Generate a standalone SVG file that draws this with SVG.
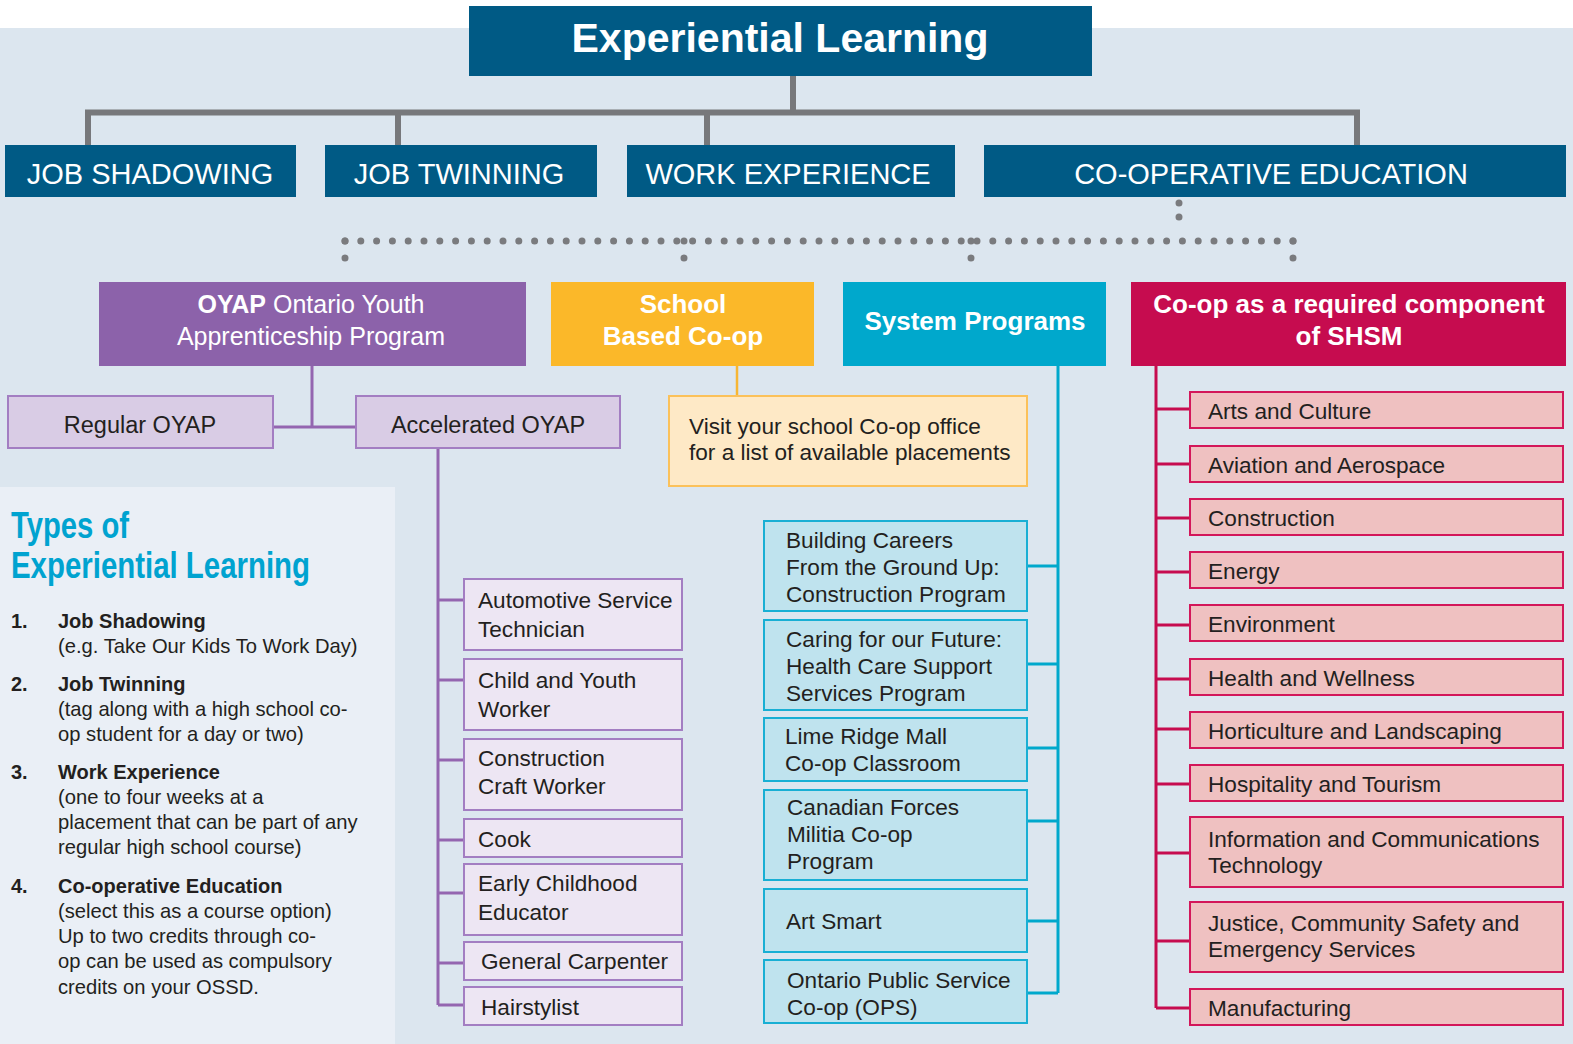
<svg xmlns="http://www.w3.org/2000/svg" width="1573" height="1044" viewBox="0 0 1573 1044">
<style>
text{font-family:"Liberation Sans",Arial,sans-serif;fill:#231f20}
.w{fill:#fff}
.t1{fill:#fff;font-size:29px;text-anchor:middle}
.l2{fill:#fff;font-size:26px;font-weight:bold;text-anchor:middle}
.it{font-size:22.6px}
.pt{font-size:20.2px}
.pb{font-size:20px;font-weight:bold}
.blue{fill:#005a85}
.pur{fill:#ede6f3;stroke:#a37ec2;stroke-width:2}
.pur2{fill:#d9cce5;stroke:#a37ec2;stroke-width:2}
.cy{fill:#bfe3ee;stroke:#19afd4;stroke-width:2}
.rd{fill:#efc1c1;stroke:#d3175a;stroke-width:2}
.dot{fill:none;stroke:#7a7b7e;stroke-width:7;stroke-linecap:round}
</style>
<rect x="0" y="0" width="1573" height="1044" fill="#ffffff"/>
<rect x="0" y="28" width="1573" height="1016" fill="#dce6ef"/>
<rect x="0" y="487" width="395" height="557" fill="#eaeff6"/>

<g id="connectors">
<path d="M793 75V112.5M88 145V112.5H1357V145M398 112.5V145M707 112.5V145" fill="none" stroke="#77787b" stroke-width="6"/>
<path class="dot" d="M1179 203V231" stroke-dasharray="0 14"/>
<path class="dot" d="M345 241H1293" stroke-dasharray="0 15.8"/>
<path class="dot" d="M345 241V275M684 241V275M971 241V275M1293 241V275" stroke-dasharray="0 17"/>
<path d="M312 366V427M273 427H356M438 449V1005M438 600H464M438 680H464M438 760H464M438 840H464M438 893H464M438 963H464M438 1005H464" fill="none" stroke="#9466b0" stroke-width="3"/>
<path d="M737 366V396" fill="none" stroke="#f7b634" stroke-width="2.5"/>
<path d="M1058 366V993M1027 566H1058M1027 664H1058M1027 748H1058M1027 821H1058M1027 921H1058M1027 993H1058" fill="none" stroke="#00a8cc" stroke-width="3"/>
<path d="M1156 366V1008M1156 409H1190M1156 464H1190M1156 518H1190M1156 572H1190M1156 625H1190M1156 679H1190M1156 729H1190M1156 784H1190M1156 853H1190M1156 941H1190M1156 1008H1190" fill="none" stroke="#c60c4f" stroke-width="3"/>
</g>

<g id="title">
<rect class="blue" x="469" y="6" width="623" height="70"/>
<text x="780" y="52" class="w" font-size="41" font-weight="bold" text-anchor="middle">Experiential Learning</text>
</g>

<g id="job-shadowing"><rect class="blue" x="5" y="145" width="291" height="52"/><text class="t1" x="150" y="184">JOB SHADOWING</text></g>
<g id="job-twinning"><rect class="blue" x="325" y="145" width="272" height="52"/><text class="t1" x="459" y="184">JOB TWINNING</text></g>
<g id="work-experience"><rect class="blue" x="627" y="145" width="328" height="52"/><text class="t1" x="788" y="184">WORK EXPERIENCE</text></g>
<g id="co-op-education"><rect class="blue" x="984" y="145" width="582" height="52"/><text class="t1" x="1271" y="184">CO-OPERATIVE EDUCATION</text></g>

<g id="oyap">
<rect x="99" y="282" width="427" height="84" fill="#8c62aa"/>
<text class="w" x="311" y="313" font-size="25" text-anchor="middle"><tspan font-weight="bold" class="w">OYAP</tspan> Ontario Youth</text>
<text class="w" x="311" y="345" font-size="25" text-anchor="middle">Apprenticeship Program</text>
</g>
<g id="school-coop">
<rect x="551" y="282" width="263" height="84" fill="#fbb829"/>
<text class="l2" x="683" y="313">School</text>
<text class="l2" x="683" y="345">Based Co-op</text>
</g>
<g id="system-programs">
<rect x="843" y="282" width="263" height="84" fill="#00a8cc"/>
<text class="l2" x="975" y="330">System Programs</text>
</g>
<g id="shsm">
<rect x="1131" y="282" width="435" height="84" fill="#c60c4f"/>
<text class="l2" x="1349" y="313">Co-op as a required component</text>
<text class="l2" x="1349" y="345">of SHSM</text>
</g>

<g id="regular-oyap"><rect class="pur2" x="8" y="396" width="265" height="52"/><text x="140" y="433" font-size="23.5" text-anchor="middle">Regular OYAP</text></g>
<g id="accelerated-oyap"><rect class="pur2" x="356" y="396" width="264" height="52"/><text x="488" y="433" font-size="23.5" text-anchor="middle">Accelerated OYAP</text></g>

<g id="school-note"><rect x="669" y="396" width="358" height="90" fill="#fee9c6" stroke="#fbc15a" stroke-width="2"/>
<text class="it" x="689" y="434">Visit your school Co-op office</text>
<text class="it" x="689" y="460">for a list of available placements</text></g>

<g id="automotive"><rect class="pur" x="464" y="579" width="218" height="71"/><text class="it" x="478" y="608">Automotive Service</text><text class="it" x="478" y="637">Technician</text></g>
<g id="child-youth"><rect class="pur" x="464" y="659" width="218" height="71"/><text class="it" x="478" y="688">Child and Youth</text><text class="it" x="478" y="717">Worker</text></g>
<g id="construction-craft"><rect class="pur" x="464" y="739" width="218" height="71"/><text class="it" x="478" y="766">Construction</text><text class="it" x="478" y="794">Craft Worker</text></g>
<g id="cook"><rect class="pur" x="464" y="819" width="218" height="38"/><text class="it" x="478" y="847">Cook</text></g>
<g id="early-childhood"><rect class="pur" x="464" y="864" width="218" height="71"/><text class="it" x="478" y="891">Early Childhood</text><text class="it" x="478" y="920">Educator</text></g>
<g id="carpenter"><rect class="pur" x="464" y="942" width="218" height="38"/><text class="it" x="481" y="969">General Carpenter</text></g>
<g id="hairstylist"><rect class="pur" x="464" y="987" width="218" height="38"/><text class="it" x="481" y="1015">Hairstylist</text></g>

<g id="building-careers"><rect class="cy" x="764" y="521" width="263" height="90"/><text class="it" x="786" y="548">Building Careers</text><text class="it" x="786" y="575">From the Ground Up:</text><text class="it" x="786" y="602">Construction Program</text></g>
<g id="caring-future"><rect class="cy" x="764" y="620" width="263" height="90"/><text class="it" x="786" y="647">Caring for our Future:</text><text class="it" x="786" y="674">Health Care Support</text><text class="it" x="786" y="701">Services Program</text></g>
<g id="lime-ridge"><rect class="cy" x="764" y="718" width="263" height="63"/><text class="it" x="785" y="744">Lime Ridge Mall</text><text class="it" x="785" y="771">Co-op Classroom</text></g>
<g id="canadian-forces"><rect class="cy" x="764" y="790" width="263" height="90"/><text class="it" x="787" y="815">Canadian Forces</text><text class="it" x="787" y="842">Militia Co-op</text><text class="it" x="787" y="869">Program</text></g>
<g id="art-smart"><rect class="cy" x="764" y="889" width="263" height="63"/><text class="it" x="786" y="929">Art Smart</text></g>
<g id="ops"><rect class="cy" x="764" y="960" width="263" height="63"/><text class="it" x="787" y="988">Ontario Public Service</text><text class="it" x="787" y="1015">Co-op (OPS)</text></g>

<g id="arts"><rect class="rd" x="1190" y="392" width="373" height="36"/><text class="it" x="1208" y="419">Arts and Culture</text></g>
<g id="aviation"><rect class="rd" x="1190" y="446" width="373" height="36"/><text class="it" x="1208" y="473">Aviation and Aerospace</text></g>
<g id="construction"><rect class="rd" x="1190" y="499" width="373" height="36"/><text class="it" x="1208" y="526">Construction</text></g>
<g id="energy"><rect class="rd" x="1190" y="552" width="373" height="36"/><text class="it" x="1208" y="579">Energy</text></g>
<g id="environment"><rect class="rd" x="1190" y="605" width="373" height="36"/><text class="it" x="1208" y="632">Environment</text></g>
<g id="health"><rect class="rd" x="1190" y="659" width="373" height="36"/><text class="it" x="1208" y="686">Health and Wellness</text></g>
<g id="horticulture"><rect class="rd" x="1190" y="712" width="373" height="36"/><text class="it" x="1208" y="739">Horticulture and Landscaping</text></g>
<g id="hospitality"><rect class="rd" x="1190" y="765" width="373" height="36"/><text class="it" x="1208" y="792">Hospitality and Tourism</text></g>
<g id="ict"><rect class="rd" x="1190" y="817" width="373" height="70"/><text class="it" x="1208" y="847">Information and Communications</text><text class="it" x="1208" y="873">Technology</text></g>
<g id="justice"><rect class="rd" x="1190" y="902" width="373" height="70"/><text class="it" x="1208" y="931">Justice, Community Safety and</text><text class="it" x="1208" y="957">Emergency Services</text></g>
<g id="manufacturing"><rect class="rd" x="1190" y="989" width="373" height="36"/><text class="it" x="1208" y="1016">Manufacturing</text></g>

<g id="types-panel">
<text x="11" y="538" font-size="37" font-weight="bold" style="fill:#00a3d0" textLength="118" lengthAdjust="spacingAndGlyphs">Types of</text>
<text x="11" y="578" font-size="37" font-weight="bold" style="fill:#00a3d0" textLength="299" lengthAdjust="spacingAndGlyphs">Experiential Learning</text>
<text class="pb" x="11" y="628">1.</text><text class="pb" x="58" y="628">Job Shadowing</text>
<text class="pt" x="58" y="653">(e.g. Take Our Kids To Work Day)</text>
<text class="pb" x="11" y="691">2.</text><text class="pb" x="58" y="691">Job Twinning</text>
<text class="pt" x="58" y="716">(tag along with a high school co-</text>
<text class="pt" x="58" y="741">op student for a day or two)</text>
<text class="pb" x="11" y="779">3.</text><text class="pb" x="58" y="779">Work Experience</text>
<text class="pt" x="58" y="804">(one to four weeks at a</text>
<text class="pt" x="58" y="829">placement that can be part of any</text>
<text class="pt" x="58" y="854">regular high school course)</text>
<text class="pb" x="11" y="893">4.</text><text class="pb" x="58" y="893">Co-operative Education</text>
<text class="pt" x="58" y="918">(select this as a course option)</text>
<text class="pt" x="58" y="943">Up to two credits through co-</text>
<text class="pt" x="58" y="968">op can be used as compulsory</text>
<text class="pt" x="58" y="994">credits on your OSSD.</text>
</g>
</svg>
